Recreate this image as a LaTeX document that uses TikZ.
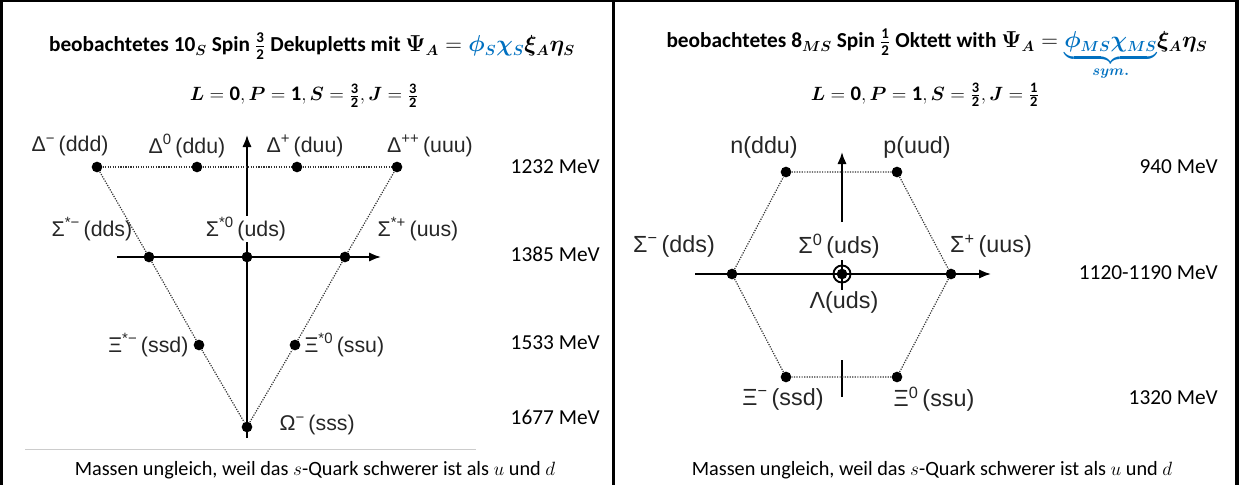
\documentclass[tikz,border=0pt]{standalone}
\usepackage{amsmath,amssymb}
\usepackage{fontspec}
\setmainfont{Carlito}
\newfontfamily\arialfont{Liberation Sans}
\usepackage{bm}
\usepackage{xcolor}
\definecolor{wordblue}{HTML}{0070C0}
\usepackage{tikz}
\usetikzlibrary{arrows.meta,positioning,calc}

\begin{document}
\begin{tikzpicture}[x=0.75pt,y=-0.75pt,>={Latex[length=9pt,width=7pt]},
  bdot/.style={circle,fill=black,inner sep=0pt,minimum size=8pt},
  hlab/.style={font=\arialfont\fontsize{16}{18}\selectfont,text=black!85,inner sep=1pt},
  hlabo/.style={font=\arialfont\fontsize{17.5}{19}\selectfont,text=black!85,inner sep=1pt},
  mev/.style={font=\fontsize{16}{18}\selectfont,anchor=east,inner sep=0pt},
  titl/.style={font=\bfseries\fontsize{16}{18}\selectfont,anchor=base,inner sep=0pt},
  qnum/.style={font=\bfseries\fontsize{15.5}{18}\selectfont,anchor=base,inner sep=0pt},
  remk/.style={font=\fontsize{15.2}{18}\selectfont,inner sep=0pt},
  ax/.style={line width=1.4pt},
  dotl/.style={densely dotted,line width=0.9pt,black!80}]
  \useasboundingbox (0,0) rectangle (1239,485);

  % frame
  \draw[line width=2.25pt] (1.5,485) -- (1.5,0);
  \draw[line width=1.5pt] (0,1) -- (1239,1);
  \draw[line width=2.25pt] (613.5,0) -- (613.5,485);
  \draw[line width=3pt] (1237,0) -- (1237,485);

  % ---- decuplet ----
  \node[titl] (tdek) at (312,52) {beobachtetes $\mathbf{10}_{\bm{S}}$ Spin $\frac{\mathbf{3}}{\mathbf{2}}$ Dekupletts mit
    $\bm{\Psi_A} = \textcolor{wordblue}{\bm{\phi_S\chi_S}}\bm{\xi_A\eta_S}$};
  \node[qnum] (qdek) at (304,101) {$\bm{L} = \mathbf{0}, \bm{P} = \mathbf{1}, \bm{S} = \frac{\mathbf{3}}{\mathbf{2}}, \bm{J} = \frac{\mathbf{3}}{\mathbf{2}}$};

  \coordinate (dvb) at (247,438);
  \coordinate (dvt) at (247,135);
  \coordinate (dhl) at (117,257);
  \coordinate (dhr) at (381,257);
  \draw[ax,->] (dvb) -- (dvt);
  \draw[ax,->] (dhl) -- (dhr);

  \node[bdot] (dm)  at (97,167) {};
  \node[bdot] (d0)  at (197,167) {};
  \node[bdot] (dp)  at (297,167) {};
  \node[bdot] (dpp) at (397,167) {};
  \node[bdot] (sm)  at (149,257) {};
  \node[bdot] (s0)  at (247,257) {};
  \node[bdot] (sp)  at (345,257) {};
  \node[bdot] (xm)  at (199,345) {};
  \node[bdot] (x0)  at (295,345) {};
  \node[bdot] (om)  at (247,427) {};

  \draw[dotl] (dm) -- (d0) -- (dp) -- (dpp);
  \draw[dotl] (dm) -- (sm) -- (xm) -- (om) -- (x0) -- (sp) -- (dpp);

  \node[hlab] (ldm)  at (70,146)  {Δ\textsuperscript{−}\,(ddd)};
  \node[hlab] (ld0)  at (187,146) {Δ\textsuperscript{0}\,(ddu)};
  \node[hlab] (ldp)  at (305,146) {Δ\textsuperscript{+}\,(duu)};
  \node[hlab] (ldpp) at (430,146) {Δ\textsuperscript{++}\,(uuu)};
  \node[hlab] (lsm)  at (92,229)  {Σ\textsuperscript{*−}\,(dds)};
  \node[hlab,fill=white] (ls0) at (246,229) {Σ\textsuperscript{*0}\,(uds)};
  \node[hlab] (lsp)  at (418,229) {Σ\textsuperscript{*+}\,(uus)};
  \node[hlab,anchor=east] (lxm) at (190,345) {Ξ\textsuperscript{*−}\,(ssd)};
  \node[hlab,anchor=west] (lx0) at (303,345) {Ξ\textsuperscript{*0}\,(ssu)};
  \node[hlab,anchor=west] (lom) at (278,425) {Ω\textsuperscript{−}\,(sss)};

  \node[mev] (m1) at (600,167) {1232 MeV};
  \node[mev] (m2) at (600,254) {1385 MeV};
  \node[mev] (m3) at (600,343) {1533 MeV};
  \node[mev] (m4) at (600,417) {1677 MeV};

  \draw[gray!40,line width=0.6pt] (25,449) -- (476,449);
  \node[remk] (bdek) at (315,470)
    {Massen ungleich, weil das $s$-Quark schwerer ist als $u$ und $d$};

  % ---- octet ----
  \node[titl] (tokt) at (937,48) {beobachtetes $\mathbf{8}_{\bm{MS}}$ Spin $\frac{\mathbf{1}}{\mathbf{2}}$ Oktett with
    $\bm{\Psi_A} = \textcolor{wordblue}{\underbrace{\bm{\phi_{MS}\chi_{MS}}}_{\bm{sym.}}}\bm{\xi_A\eta_S}$};
  \node[qnum] (qokt) at (925,100) {$\bm{L} = \mathbf{0}, \bm{P} = \mathbf{1}, \bm{S} = \frac{\mathbf{3}}{\mathbf{2}}, \bm{J} = \frac{\mathbf{1}}{\mathbf{2}}$};

  \coordinate (ovb) at (842,222);
  \coordinate (ovt) at (842,152);
  \coordinate (ohl) at (695,274);
  \coordinate (ohr) at (991,274);
  \coordinate (oma) at (842,260);
  \coordinate (omb) at (842,290);
  \coordinate (oba) at (842,360);
  \coordinate (obb) at (842,397);
  \draw[ax,->] (ovb) -- (ovt);
  \draw[ax,->] (ohl) -- (ohr);
  \draw[ax] (oma) -- (omb);
  \draw[ax] (oba) -- (obb);

  \node[bdot] (nn) at (786,172) {};
  \node[bdot] (pp) at (897,172) {};
  \node[bdot] (sgm) at (732,274) {};
  \node[bdot] (sgp) at (951,274) {};
  \node[bdot] (xim) at (786,377) {};
  \node[bdot] (xi0) at (897,377) {};
  \node[bdot] (lam) at (842,274) {};
  \draw[line width=1.4pt] (lam.center) circle[radius=6.4pt];

  \draw[dotl] (nn) -- (pp) -- (sgp) -- (xi0) -- (xim) -- (sgm) -- (nn);

  \node[hlabo] (lnn)  at (764,147) {n(ddu)};
  \node[hlabo] (lpp)  at (917,147) {p(uud)};
  \node[hlabo] (lsgm) at (674,246) {Σ\textsuperscript{−}\,(dds)};
  \node[hlabo] (lsg0) at (839,246) {Σ\textsuperscript{0}\,(uds)};
  \node[hlabo] (lsgp) at (991,246) {Σ\textsuperscript{+}\,(uus)};
  \node[hlabo] (llam) at (844,302) {Λ(uds)};
  \node[hlabo] (lxim) at (783,399) {Ξ\textsuperscript{−}\,(ssd)};
  \node[hlabo] (lxi0) at (934,399) {Ξ\textsuperscript{0}\,(ssu)};

  \node[mev] (n1) at (1218,167) {940 MeV};
  \node[mev] (n2) at (1218,273) {1120-1190 MeV};
  \node[mev] (n3) at (1218,398) {1320 MeV};

  \node[remk] (bokt) at (932,470)
    {Massen ungleich, weil das $s$-Quark schwerer ist als $u$ und $d$};
\end{tikzpicture}
\end{document}
